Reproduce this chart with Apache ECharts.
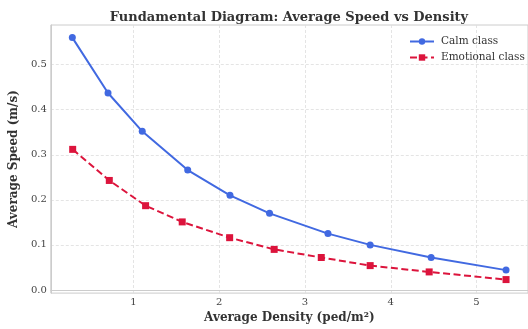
<!DOCTYPE html>
<html>
<head>
<meta charset="utf-8">
<script src="https://cdn.jsdelivr.net/npm/echarts@6/dist/echarts.min.js"></script>
<style>html,body{margin:0;padding:0;background:#fff;}#c{width:528px;height:329px;}</style>
</head>
<body>
<div id="c"></div>
<script>
const densityCalm = [0.288, 0.704, 1.103, 1.633, 2.126, 2.587, 3.268, 3.760, 4.471, 5.344];
const speedCalm = [0.560, 0.437, 0.352, 0.266, 0.210, 0.170, 0.125, 0.100, 0.072, 0.044];
const densityEmotional = [0.292, 0.719, 1.142, 1.569, 2.122, 2.641, 3.190, 3.760, 4.448, 5.344];
const speedEmotional = [0.312, 0.243, 0.187, 0.151, 0.116, 0.090, 0.072, 0.054, 0.040, 0.023];
const xTicks = [1, 2, 3, 4, 5];
const yTicks = [0.0, 0.1, 0.2, 0.3, 0.4, 0.5];

const font = 'DejaVu Serif';
const chart = echarts.init(document.getElementById('c'), null, {renderer: 'canvas'});
const zip = (a, b) => a.map((v, i) => [v, b[i]]);
chart.setOption({
  backgroundColor: '#ffffff',
  animation: false,
  title: {
    text: 'Fundamental Diagram: Average Speed vs Density',
    left: 284, top: 6, textAlign: 'center',
    textStyle: {fontFamily: font, fontSize: 13, fontWeight: 'bold', color: '#333333'}
  },
  legend: {
    orient: 'vertical', left: 404, top: 31,
    itemWidth: 24, itemHeight: 8, itemGap: 5,
    textStyle: {fontFamily: font, fontSize: 10.5, color: '#333333', padding: [0, 0, 0, 2]},
    data: ['Calm class', 'Emotional class']
  },
  grid: {left: 50, top: 25, right: -4, bottom: 33, show: true, borderColor: '#cccccc', borderWidth: 1},
  xAxis: {
    type: 'value', min: 0.037, max: 5.6,
    name: 'Average Density (ped/m²)', nameLocation: 'middle', nameGap: 16,
    nameTextStyle: {fontFamily: font, fontSize: 12, fontWeight: 'bold', color: '#333333'},
    axisLine: {show: true, lineStyle: {color: '#cccccc', width: 1}},
    axisTick: {show: false, customValues: xTicks},
    axisLabel: {customValues: xTicks, fontFamily: font, fontSize: 10, color: '#444444', margin: 4, formatter: v => String(Math.round(v))},
    splitLine: {show: true, lineStyle: {color: '#dddddd', type: [3, 2], width: 0.8}}
  },
  yAxis: {
    type: 'value', min: -0.007, max: 0.588,
    name: 'Average Speed (m/s)', nameLocation: 'middle', nameGap: 25,
    nameTextStyle: {fontFamily: font, fontSize: 12, fontWeight: 'bold', color: '#333333'},
    axisLine: {show: true, lineStyle: {color: '#cccccc', width: 1}},
    axisTick: {show: false, customValues: yTicks},
    axisLabel: {customValues: yTicks, fontFamily: font, fontSize: 10, color: '#444444', margin: 4, formatter: v => v.toFixed(1)},
    splitLine: {show: true, lineStyle: {color: '#dddddd', type: [3, 2], width: 0.8}}
  },
  series: [
    {
      name: 'Calm class', type: 'line', data: zip(densityCalm, speedCalm),
      symbol: 'circle', symbolSize: 7,
      lineStyle: {color: '#4169E1', width: 2},
      itemStyle: {color: '#4169E1'}
    },
    {
      name: 'Emotional class', type: 'line', data: zip(densityEmotional, speedEmotional),
      symbol: 'rect', symbolSize: 7,
      lineStyle: {color: '#DC143C', width: 2, type: [7, 3.5]},
      itemStyle: {color: '#DC143C'}
    }
  ]
});
</script>
</body>
</html>
